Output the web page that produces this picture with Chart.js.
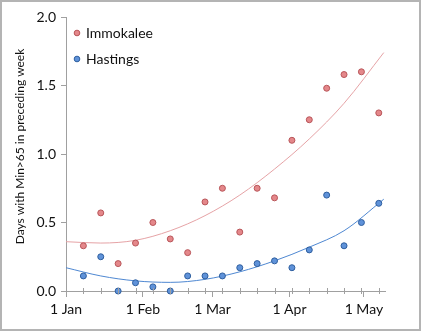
<!DOCTYPE html>
<html>
<head>
<meta charset="utf-8">
<script src="https://cdn.jsdelivr.net/npm/chart.js@4.4.1/dist/chart.umd.min.js"></script>
<style>
  html, body { margin: 0; padding: 0; background: #fff; }
  #wrap { position: relative; width: 421px; height: 331px; }
</style>
</head>
<body>
<div id="wrap"><canvas id="chart" width="421" height="331"></canvas></div>
<script>
// weekly sample days, counted from 1 Jan (day 0)
const sampleDays = [7, 14, 21, 28, 35, 42, 49, 56, 63, 70, 77, 84, 91, 98, 105, 112, 119, 126];

// days with Tmin > 65 in the preceding week
const immokalee = [0.33, 0.57, 0.20, 0.35, 0.50, 0.38, 0.28, 0.65, 0.75, 0.43, 0.75, 0.68, 1.10, 1.25, 1.48, 1.58, 1.60, 1.30];
const hastings  = [0.11, 0.25, 0.00, 0.06, 0.03, 0.00, 0.11, 0.11, 0.11, 0.17, 0.20, 0.22, 0.17, 0.30, 0.70, 0.33, 0.50, 0.64];

// trend curves
const trendDays      = [0, 14, 28, 42, 56, 70, 84, 98, 112, 128];
const immokaleeTrend = [0.36, 0.35, 0.37, 0.44, 0.55, 0.70, 0.89, 1.11, 1.37, 1.74];
const hastingsTrend  = [0.17, 0.11, 0.074, 0.063, 0.085, 0.14, 0.22, 0.32, 0.44, 0.67];

// x axis month labels
const monthDays   = [0, 31, 59, 90, 120];
const monthLabels = ['1 Jan', '1 Feb', '1 Mar', '1 Apr', '1 May'];

const yTicks = [0, 0.5, 1.0, 1.5, 2.0];

const FONT = 'Lato, "Open Sans", sans-serif';

const toXY = (xs, ys) => xs.map((x, i) => ({ x, y: ys[i] }));

// weekly minor ticks on the date axis, outer frame, legend placement
const extrasPlugin = {
  id: 'extras',
  afterLayout(chart) {
    // pin the in-plot legend to the top-left corner of the plot
    const lg = chart.legend;
    lg.top = 14;
    lg.left = 63;
    lg.bottom = chart.chartArea.bottom;
    lg.right = chart.chartArea.right;
  },
  beforeDraw(chart) {
    const { ctx } = chart;
    ctx.save();
    ctx.fillStyle = '#fff';
    ctx.fillRect(0, 0, chart.width, chart.height);
    ctx.restore();
  },
  afterDraw(chart) {
    const { ctx } = chart;
    const x = chart.scales.x;
    const yPix = chart.scales.y.getPixelForValue(0);
    ctx.save();
    ctx.strokeStyle = '#a0a0a0';
    ctx.lineWidth = 1;
    for (let d = 0; d <= 126; d += 7) {
      const px = Math.round(x.getPixelForValue(d)) + 0.5;
      ctx.beginPath();
      ctx.moveTo(px, yPix - 3);
      ctx.lineTo(px, yPix + 3);
      ctx.stroke();
    }
    // frame
    ctx.strokeStyle = '#b4b4b4';
    ctx.lineWidth = 2;
    ctx.strokeRect(1, 1, chart.width - 2, chart.height - 2);
    ctx.restore();
  }
};

new Chart(document.getElementById('chart'), {
  type: 'scatter',
  data: {
    datasets: [
      {
        label: 'Immokalee',
        data: toXY(sampleDays, immokalee),
        pointRadius: 3,
        pointBackgroundColor: '#e4878a',
        pointBorderColor: '#b9565a',
        pointBorderWidth: 1,
        clip: false,
        order: 1,
      },
      {
        label: 'Hastings',
        data: toXY(sampleDays, hastings),
        pointRadius: 3,
        pointBackgroundColor: '#5f92d9',
        pointBorderColor: '#2f5f9f',
        pointBorderWidth: 1,
        clip: false,
        order: 1,
      },
      {
        label: 'trend-immokalee',
        data: toXY(trendDays, immokaleeTrend),
        showLine: true,
        pointRadius: 0,
        borderColor: '#e6a3a6',
        borderWidth: 1,
        cubicInterpolationMode: 'monotone',
        order: 2,
      },
      {
        label: 'trend-hastings',
        data: toXY(trendDays, hastingsTrend),
        showLine: true,
        pointRadius: 0,
        borderColor: '#4f88d2',
        borderWidth: 1,
        cubicInterpolationMode: 'monotone',
        order: 2,
      },
    ],
  },
  options: {
    responsive: false,
    animation: false,
    layout: { padding: { top: 17, right: 36, bottom: 0, left: 0 } },
    plugins: {
      legend: {
        position: 'chartArea',
        align: 'start',
        labels: {
          filter: item => !item.text.startsWith('trend'),
          usePointStyle: true,
          boxWidth: 4,
          boxHeight: 4,
          padding: 12,
          color: '#111',
          font: { family: FONT, size: 14 },
        },
      },
      tooltip: { enabled: false },
    },
    scales: {
      x: {
        type: 'linear',
        min: 0,
        max: 128.5,
        afterBuildTicks: s => { s.ticks = monthDays.map(v => ({ value: v })); },
        afterFit: s => { s.height = 40; },
        ticks: {
          callback: v => monthLabels[monthDays.indexOf(v)],
          color: '#111',
          font: { family: FONT, size: 14 },
          padding: 4,
          maxRotation: 0,
        },
        grid: { drawOnChartArea: false, tickLength: 6, color: '#a0a0a0' },
        border: { color: '#a0a0a0' },
      },
      y: {
        min: 0,
        max: 2,
        afterBuildTicks: s => { s.ticks = yTicks.map(v => ({ value: v })); },
        afterFit: s => { s.width = 66; },
        ticks: {
          callback: v => v.toFixed(1),
          color: '#111',
          font: { family: FONT, size: 14 },
          padding: 5,
        },
        grid: { drawOnChartArea: false, tickLength: 5, color: '#a0a0a0' },
        border: { color: '#a0a0a0' },
        title: {
          display: true,
          text: '\u2003\u2002Days with Min>65 in preceding week',
          color: '#111',
          font: { family: FONT, size: 12 },
          padding: { top: 13, bottom: 2 },
        },
      },
    },
  },
  plugins: [extrasPlugin],
});
</script>
</body>
</html>
